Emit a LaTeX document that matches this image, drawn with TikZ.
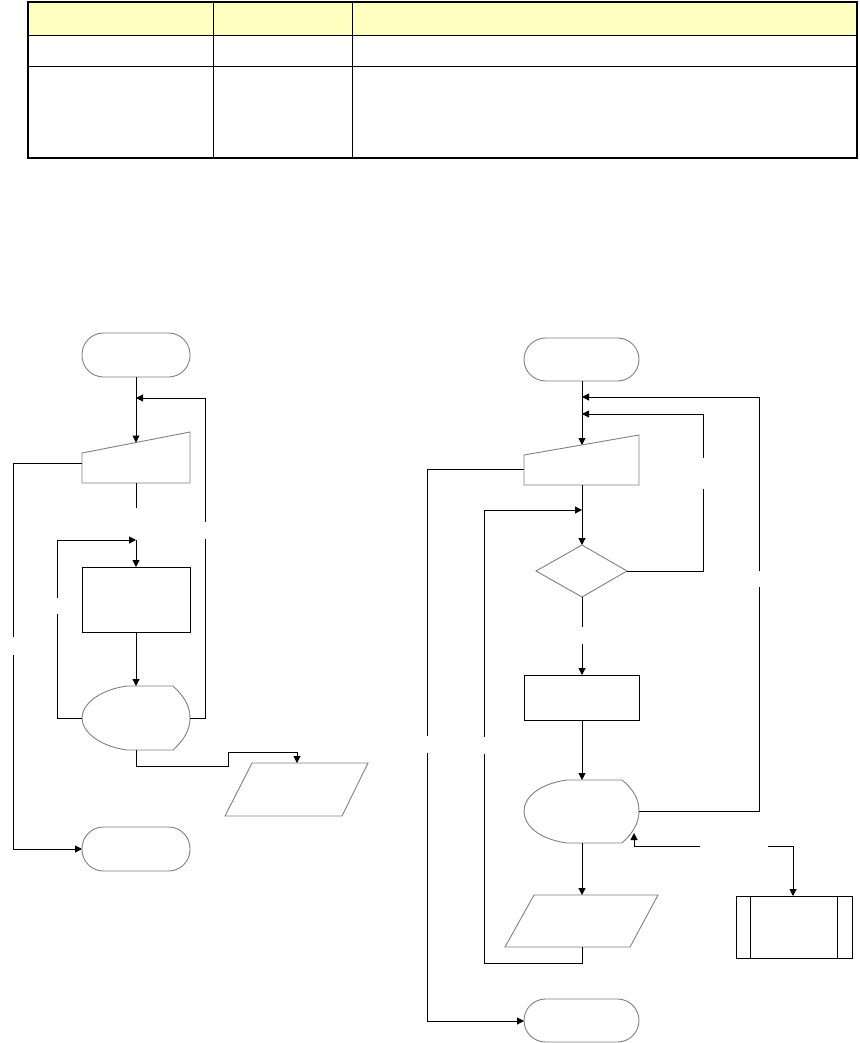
\documentclass[tikz,border=0pt]{standalone}
\usetikzlibrary{arrows.meta}
\definecolor{hdr}{HTML}{FFFFC0}
\definecolor{shp}{HTML}{808080}
\begin{document}
\begin{tikzpicture}[x=1pt,y=-1pt,
  conn/.style={line width=1pt,black},
  arr/.style={conn,-{Triangle[length=7pt,width=7pt]}},
  grayshape/.style={draw=shp,line width=0.9pt,fill=white},
  blackshape/.style={draw=black,line width=1pt,fill=white},
  term/.style={grayshape,rounded corners=21.5pt}]
\useasboundingbox (0,0) rectangle (859,1043);
% ---------------- table ----------------
\fill[hdr] (28,2) rectangle (857,35);
\draw[line width=0.8pt] (28,35) -- (857,35) (28,66) -- (857,66)
  (213,2) -- (213,158) (352,2) -- (352,158);
\draw[line width=2pt] (28,2) rectangle (857,158);
% ---------------- left chart: coordinates ----------------
\coordinate (s1b) at (136,377);
\coordinate (j1) at (136,398);
\coordinate (m1t) at (136,442.5);
\coordinate (m1l) at (82,463);
\coordinate (m1b) at (136,483);
\coordinate (g1a) at (136,508);
\coordinate (j1b) at (136,540);
\coordinate (r1t) at (136,567);
\coordinate (r1b) at (136,632);
\coordinate (d1t) at (136,686);
\coordinate (d1l) at (82,718);
\coordinate (d1r) at (190,718);
\coordinate (d1b) at (136,750);
\coordinate (p1t) at (297,763);
\coordinate (e1l) at (82,849);
% shapes
\draw[term] (82,333) rectangle (190,377);
\draw[grayshape] (82,453) -- (190,432) -- (190,483) -- (82,483) -- cycle;
\draw[blackshape] (82,567) rectangle (190,632);
\draw[grayshape] (127,686) .. controls (98,690) and (82,705) .. (82,718)
  .. controls (82,731) and (98,746) .. (127,750) -- (173,750)
  .. controls (184,740) and (190,730) .. (190,718)
  .. controls (190,706) and (184,696) .. (173,686) -- cycle;
\draw[grayshape] (252,763) -- (368,763) -- (342,816) -- (225,816) -- cycle;
\draw[term] (82,827) rectangle (190,871);
% connectors
\draw[arr] (s1b) -- (m1t);
\draw[conn] (d1r) -- (205,718) -- (205,539);
\draw[arr] (205,522) -- (205,398) -- (j1);
\draw[conn] (m1l) -- (13,463) -- (13,637);
\draw[arr] (13,655) -- (13,849) -- (e1l);
\draw[conn] (m1b) -- (g1a);
\draw[arr] (j1b) -- (r1t);
\draw[conn] (d1l) -- (57,718) -- (57,614);
\draw[arr] (57,598) -- (57,540) -- (j1b);
\draw[arr] (r1b) -- (d1t);
\draw[arr] (d1b) -- (136,766) -- (228,766) -- (228,752) -- (297,752) -- (p1t);
% ---------------- right chart: coordinates ----------------
\coordinate (s2b) at (582,381);
\coordinate (j2a) at (582,397);
\coordinate (j2b) at (582,414);
\coordinate (m2t) at (582,445);
\coordinate (m2l) at (524,469);
\coordinate (m2b) at (582,485);
\coordinate (j2c) at (582,510);
\coordinate (d2t) at (582,545);
\coordinate (d2r) at (627,571);
\coordinate (d2b) at (582,597);
\coordinate (g2a) at (582,627);
\coordinate (g2b) at (582,644);
\coordinate (r2t) at (582,675);
\coordinate (r2b) at (582,720);
\coordinate (q2t) at (582,780);
\coordinate (q2r) at (639,811);
\coordinate (q2in) at (634,833);
\coordinate (q2b) at (582,843);
\coordinate (sub2t) at (793,896);
\coordinate (p2t) at (582,895);
\coordinate (p2b) at (582,947);
\coordinate (e2l) at (524,1021);
% shapes
\draw[term] (524,338) rectangle (639,381);
\draw[grayshape] (524,455) -- (639,435) -- (639,485) -- (524,485) -- cycle;
\draw[grayshape] (582,545) -- (627,571) -- (582,597) -- (536,571) -- cycle;
\draw[blackshape] (524,675) rectangle (639,720);
\draw[grayshape] (567,780) .. controls (538,784) and (524,798) .. (524,811)
  .. controls (524,825) and (538,839) .. (567,843) -- (622,843)
  .. controls (633,833) and (639,823) .. (639,811)
  .. controls (639,799) and (633,789) .. (622,780) -- cycle;
\draw[blackshape] (736,896) rectangle (852,958);
\draw[line width=1pt] (750,896) -- (750,958) (837,896) -- (837,958);
\draw[grayshape] (534,895) -- (658,895) -- (630,947) -- (505,947) -- cycle;
\draw[term] (524,999) rectangle (639,1042);
% connectors
\draw[arr] (s2b) -- (m2t);
\draw[arr] (m2b) -- (d2t);
\draw[conn] (d2r) -- (703,571) -- (703,489);
\draw[arr] (703,458) -- (703,414) -- (j2b);
\draw[conn] (d2b) -- (g2a);
\draw[arr] (g2b) -- (r2t);
\draw[arr] (r2b) -- (q2t);
\draw[conn] (q2r) -- (759,811) -- (759,587);
\draw[arr] (759,571) -- (759,397) -- (j2a);
\draw[arr] (700,846) -- (634,846) -- (q2in);
\draw[arr] (768,846) -- (793,846) -- (sub2t);
\draw[arr] (q2b) -- (p2t);
\draw[conn] (p2b) -- (582,963) -- (484,963) -- (484,754);
\draw[arr] (484,737) -- (484,510) -- (j2c);
\draw[conn] (m2l) -- (427,469) -- (427,736);
\draw[arr] (427,753) -- (427,1021) -- (e2l);
\end{tikzpicture}
\end{document}
